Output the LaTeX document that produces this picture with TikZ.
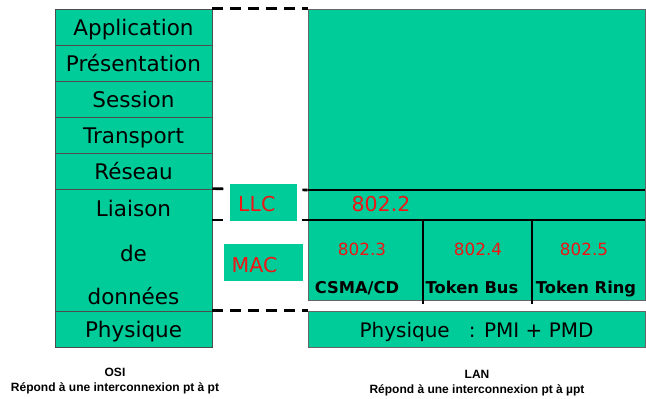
\documentclass[tikz,border=0pt]{standalone}
\usepackage{fontspec}
\setmainfont{DejaVu Sans}
\newfontfamily\captionfont{Liberation Sans}
\definecolor{osigreen}{RGB}{0,204,153}
\definecolor{stdred}{RGB}{240,20,20}
\begin{document}
\begin{tikzpicture}[x=1pt,y=-1pt,
  layer/.style={draw=black!70, line width=0.7pt, fill=osigreen, minimum width=157pt,
    inner sep=0pt, text height=17pt, text depth=0pt, font=\fontsize{21.5}{24}\selectfont},
  word/.style={inner sep=0pt, text height=17pt, text depth=0pt, font=\fontsize{21.5}{24}\selectfont},
  panel/.style={draw=black!60, line width=0.7pt, fill=osigreen, inner sep=0pt},
  tag/.style={fill=osigreen, inner sep=0pt},
  redtext/.style={text=stdred, inner sep=0pt, anchor=base, font=\fontsize{20.5}{23}\selectfont},
  stdnum/.style={text=stdred, inner sep=0pt, anchor=base, font=\fontsize{16.8}{19}\selectfont},
  method/.style={inner sep=0pt, anchor=base, font=\bfseries\fontsize{16.3}{19}\selectfont},
  divider/.style={line width=2.6pt},
  bridge/.style={line width=2.6pt, dash pattern=on 11pt off 7pt},
  caption/.style={inner sep=0pt, align=center, font=\captionfont\bfseries\fontsize{12}{14.5}\selectfont}]
\useasboundingbox (0,0) rectangle (646,399);

% OSI stack
\node[layer, minimum height=36pt] (app)  at (133.5,27)  {Application};
\node[layer, minimum height=36pt] (pres) at (133.5,63)  {Présentation};
\node[layer, minimum height=36pt] (sess) at (133.5,99)  {Session};
\node[layer, minimum height=36pt] (trans) at (133.5,135) {Transport};
\node[layer, minimum height=36pt] (net)  at (133.5,171) {Réseau};
\node[layer, minimum height=122pt] (link) at (133.5,250) {};
\node[word] (liaison) at (133.5,208) {Liaison};
\node[word] (de)      at (133.5,253) {de};
\node[word] (donnees) at (133.5,296) {données};
\node[layer, minimum height=36pt] (phy) at (133.5,329) {Physique};

% LAN side
\node[panel, minimum width=337pt, minimum height=291pt] (lan) at (476.5,154.5) {};
\node[panel, minimum width=337pt, minimum height=36pt, text height=16pt, text depth=0pt,
  font=\fontsize{20}{23}\selectfont]
  (lanphy) at (476.5,329) {Physique\ \ \ : PMI + PMD};

% horizontal dividers inside the LAN panel
\coordinate (llctop) at (lan.west |- 0,190);
\coordinate (mactop) at (lan.west |- 0,220);
\draw[divider] (llctop) -- (llctop -| lan.east);
\draw[divider] (mactop) -- (mactop -| lan.east);
\coordinate (col1) at (423,220);
\coordinate (col2) at (532,220);
\draw[divider] (col1) -- (col1 |- 0,304);
\draw[divider] (col2) -- (col2 |- 0,304);

% dashed links between both stacks
\draw[bridge] (app.north east) -- (app.north east -| lan.west);
\draw[bridge] (link.north east) -- (llctop);
\draw[bridge] (link.east |- mactop) -- (mactop);
\draw[bridge] (phy.north east) -- (phy.north east -| lan.west);

% sublayer tags
\node[tag, minimum width=67pt, minimum height=37pt] (llcbox) at (263.5,202.5) {};
\node[redtext, anchor=base west] (llc) at (238,211) {LLC};
\node[tag, minimum width=79pt, minimum height=37pt] (macbox) at (263.5,262.5) {};
\node[redtext, anchor=base west] (mac) at (231.5,272) {MAC};

% standards
\node[redtext] (s2) at (381,211) {802.2};
\node[stdnum] (s3) at (362,255) {802.3};
\node[stdnum] (s4) at (478,255) {802.4};
\node[stdnum] (s5) at (584,255) {802.5};
\node[method] (m3) at (357,293) {CSMA/CD};
\node[method] (m4) at (472,293) {Token Bus};
\node[method] (m5) at (586,293) {Token Ring};

% captions
\node[caption] (osicap) at (115,381) {OSI\\Répond à une interconnexion pt à pt};
\node[caption] (lancap) at (477,383) {LAN\\Répond à une interconnexion pt à µpt};
\end{tikzpicture}
\end{document}
